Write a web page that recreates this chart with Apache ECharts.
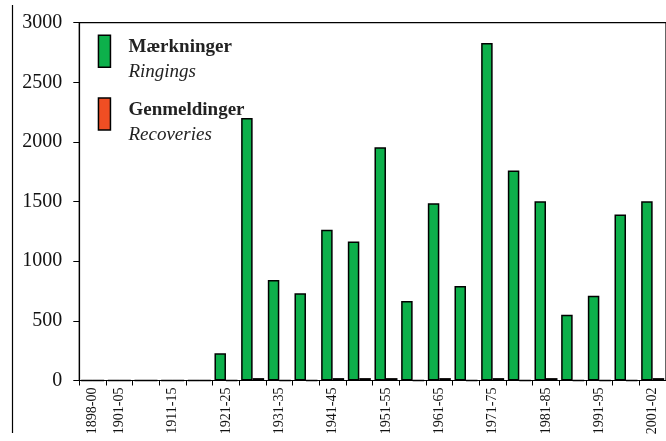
<!DOCTYPE html>
<html>
<head>
<meta charset="utf-8">
<script src="https://cdn.jsdelivr.net/npm/echarts@6/dist/echarts.min.js"></script>
<style>html,body{margin:0;padding:0;background:#fff;}#c{width:666px;height:441px;}</style>
</head>
<body>
<div id="c"></div>
<script>
const categories = ['1898-00','1901-05','1906-10','1911-15','1916-20','1921-25','1926-30','1931-35','1936-40','1941-45','1946-50','1951-55','1956-60','1961-65','1966-70','1971-75','1976-80','1981-85','1986-90','1991-95','1996-00','2001-02'];
const ringings = [0,0,0,0,0,228,2200,843,731,1263,1165,1956,667,1486,793,2829,1760,1503,552,711,1391,1503];
const recoveries = [0,0,0,0,0,0,20,0,0,20,20,20,0,20,0,20,0,20,0,0,0,20];
const yTicks = [0,500,1000,1500,2000,2500,3000];

const FONT = 'Liberation Serif';
const chart = echarts.init(document.getElementById('c'));
chart.setOption({
  animation: false,
  backgroundColor: '#fff',
  grid: {left: 79.3, top: 22.7, bottom: 60.5, width: 589.2, show: true, borderColor: '#000', borderWidth: 1.2, containLabel: false},
  graphic: [{type: 'line', shape: {x1: 12.5, y1: 5, x2: 12.5, y2: 433}, style: {stroke: '#000', lineWidth: 1.2}}],
  legend: {
    orient: 'vertical', left: 97.7, top: 34.5, padding: 0, itemGap: 15.5,
    itemWidth: 12, itemHeight: 32, icon: 'rect',
    itemStyle: {borderColor: '#000', borderWidth: 1.5},
    formatter: function (name) {
      return name === 'Mærkninger' ? '{a|Mærkninger}\n{b|Ringings}' : '{a|Genmeldinger}\n{b|Recoveries}';
    },
    textStyle: {
      padding: [17, 0, 0, 13],
      rich: {
        a: {fontFamily: FONT, fontWeight: 'bold', fontSize: 19, lineHeight: 25, color: '#222'},
        b: {fontFamily: FONT, fontStyle: 'italic', fontSize: 19, lineHeight: 25, color: '#222'}
      }
    },
    data: ['Mærkninger', 'Genmeldinger']
  },
  xAxis: {
    type: 'category', data: categories,
    axisLine: {lineStyle: {color: '#000', width: 1.2}},
    axisTick: {show: true, interval: 0, length: 5, lineStyle: {color: '#000'}},
    axisLabel: {
      rotate: 90, margin: 7, fontFamily: FONT, fontSize: 14, color: '#111',
      interval: function (i) { return i === 0 || i % 2 === 1; }
    }
  },
  yAxis: {
    type: 'value', min: 0, max: 3000, interval: 500,
    axisLine: {show: true, lineStyle: {color: '#000', width: 1.2}},
    axisTick: {show: true, length: 6, lineStyle: {color: '#000'}},
    splitLine: {show: false},
    axisLabel: {margin: 17, fontFamily: FONT, fontSize: 20, color: '#111',
      formatter: function (v) { return yTicks.indexOf(v) >= 0 ? String(v) : ''; }}
  },
  series: [
    {name: 'Mærkninger', type: 'bar', data: ringings, barWidth: 11.5, barGap: '0%',
      itemStyle: {color: '#0DB04B', borderColor: '#000', borderWidth: 1.5}},
    {name: 'Genmeldinger', type: 'bar', data: recoveries, barWidth: 11.5,
      itemStyle: {color: '#F04E23', borderColor: '#000', borderWidth: 1.5}}
  ]
});
</script>
</body>
</html>
